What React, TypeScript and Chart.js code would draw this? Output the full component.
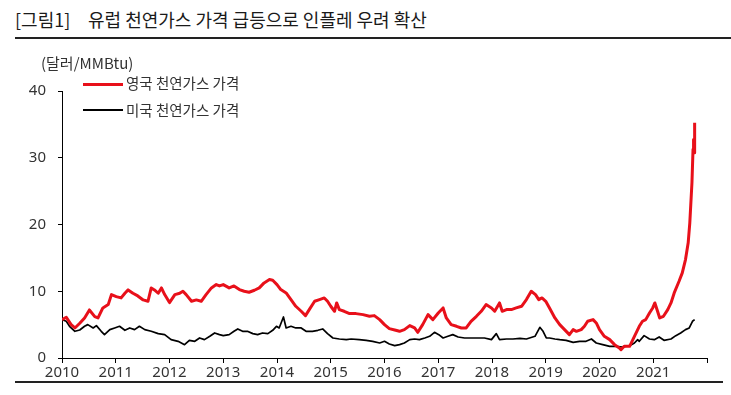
import React, { useEffect, useRef } from 'react';
import { Chart, registerables } from 'chart.js';

Chart.register(...registerables);

const TITLE_TAG = '[그림1]';
const TITLE = '유럽 천연가스 가격 급등으로 인플레 우려 확산';
const UNIT = '(달러/MMBtu)';
const UK_LABEL = '영국 천연가스 가격';
const US_LABEL = '미국 천연가스 가격';

const ukYears = [
  2010.0, 2010.08, 2010.17, 2010.24, 2010.33, 2010.42, 2010.51, 2010.61, 2010.67, 2010.76, 2010.86, 2010.92,
  2011.01, 2011.1, 2011.17, 2011.23, 2011.32, 2011.41, 2011.51, 2011.6, 2011.66, 2011.72, 2011.79, 2011.85, 2011.91,
  2012.0, 2012.1, 2012.19, 2012.25, 2012.31, 2012.41, 2012.5, 2012.59, 2012.68, 2012.78, 2012.87, 2012.93,
  2013.0, 2013.11, 2013.2, 2013.3, 2013.39, 2013.48, 2013.58, 2013.67, 2013.76, 2013.86, 2013.92,
  2014.0, 2014.07, 2014.17, 2014.26, 2014.35, 2014.45, 2014.53, 2014.6, 2014.7, 2014.79, 2014.88, 2014.94,
  2015.0, 2015.07, 2015.11, 2015.16, 2015.25, 2015.35, 2015.47, 2015.6, 2015.72, 2015.81, 2015.91,
  2016.0, 2016.09, 2016.19, 2016.28, 2016.37, 2016.47, 2016.56, 2016.62, 2016.71, 2016.81, 2016.9,
  2017.0, 2017.09, 2017.15, 2017.24, 2017.34, 2017.43, 2017.52, 2017.61, 2017.71, 2017.8, 2017.89, 2017.99,
  2018.05, 2018.14, 2018.19, 2018.27, 2018.36, 2018.45, 2018.55, 2018.64, 2018.73, 2018.81, 2018.87, 2018.93,
  2019.0, 2019.07, 2019.17, 2019.26, 2019.35, 2019.44, 2019.51, 2019.57, 2019.66, 2019.72, 2019.78, 2019.88, 2019.94,
  2020.0, 2020.09, 2020.19, 2020.28, 2020.37, 2020.4, 2020.46, 2020.56, 2020.65, 2020.74, 2020.8, 2020.86, 2020.93, 2020.99,
  2021.03, 2021.08, 2021.12, 2021.19, 2021.27, 2021.33, 2021.39, 2021.48, 2021.54, 2021.6, 2021.65, 2021.68,
  2021.72, 2021.74, 2021.75, 2021.76, 2021.77,
];
const ukPrices = [
  5.75, 6.1, 5.0, 4.5, 5.2, 6.0, 7.2, 6.2, 6.0, 7.5, 8.0, 9.5,
  9.2, 9.0, 9.7, 10.2, 9.7, 9.3, 8.7, 8.5, 10.5, 10.2, 9.7, 10.5, 9.5,
  8.3, 9.5, 9.7, 10.0, 9.5, 8.5, 8.7, 8.5, 9.5, 10.5, 11.0, 10.8,
  11.0, 10.5, 10.8, 10.25, 10.0, 9.85, 10.15, 10.5, 11.25, 11.75, 11.65,
  11.0, 10.25, 9.75, 8.75, 7.75, 7.0, 6.35, 7.25, 8.5, 8.75, 9.0, 8.5,
  7.75, 7.0, 8.25, 7.25, 7.0, 6.65, 6.65, 6.5, 6.25, 6.35, 5.75,
  5.0, 4.4, 4.2, 4.0, 4.25, 4.85, 4.5, 3.85, 5.0, 6.5, 5.75,
  6.75, 7.5, 6.0, 5.0, 4.75, 4.5, 4.5, 5.5, 6.25, 7.0, 8.0, 7.5,
  7.0, 8.25, 7.0, 7.25, 7.25, 7.5, 7.75, 8.75, 10.0, 9.5, 8.75, 9.0,
  8.5, 7.5, 6.0, 5.0, 4.25, 3.5, 4.25, 4.0, 4.25, 4.75, 5.5, 5.75, 5.25,
  4.25, 3.25, 2.75, 2.0, 1.5, 1.25, 1.75, 1.75, 3.25, 4.75, 5.5, 5.75, 6.75, 7.5,
  8.25, 7.0, 6.0, 6.25, 7.25, 8.25, 9.75, 11.5, 12.75, 14.75, 17.25, 20.25,
  26.25, 31.25, 32.75, 30.75, 35.25,
];

const usYears = [
  2010.0, 2010.08, 2010.14, 2010.24, 2010.33, 2010.42, 2010.48, 2010.58, 2010.64, 2010.73, 2010.79, 2010.89, 2010.98,
  2011.07, 2011.17, 2011.26, 2011.35, 2011.44, 2011.54, 2011.66, 2011.79, 2011.91,
  2012.03, 2012.16, 2012.28, 2012.37, 2012.47, 2012.56, 2012.65, 2012.75, 2012.84, 2012.93,
  2013.0, 2013.11, 2013.2, 2013.27, 2013.36, 2013.45, 2013.55, 2013.64, 2013.73, 2013.83, 2013.92, 2013.99,
  2014.04, 2014.12, 2014.17, 2014.26, 2014.35, 2014.45, 2014.54, 2014.66, 2014.76, 2014.85, 2014.94,
  2015.04, 2015.16, 2015.29, 2015.38, 2015.53, 2015.66, 2015.78, 2015.91, 2016.0,
  2016.09, 2016.19, 2016.28, 2016.37, 2016.47, 2016.56, 2016.65, 2016.75, 2016.84, 2016.93,
  2017.01, 2017.09, 2017.18, 2017.27, 2017.37, 2017.49, 2017.61, 2017.74, 2017.86, 2017.99,
  2018.08, 2018.14, 2018.27, 2018.39, 2018.52, 2018.64, 2018.8, 2018.89, 2018.95, 2019.01,
  2019.07, 2019.17, 2019.26, 2019.38, 2019.51, 2019.63, 2019.75, 2019.85, 2019.94,
  2020.06, 2020.19, 2020.31, 2020.43, 2020.56, 2020.65, 2020.71, 2020.74, 2020.83, 2020.93,
  2021.02, 2021.11, 2021.2, 2021.33, 2021.42, 2021.51, 2021.6, 2021.67, 2021.73, 2021.77,
];
const usPrices = [
  5.75, 5.5, 4.75, 4.0, 4.2, 4.75, 5.0, 4.5, 4.85, 4.0, 3.5, 4.25, 4.5,
  4.75, 4.15, 4.5, 4.25, 4.75, 4.25, 4.0, 3.65, 3.5,
  2.75, 2.5, 2.0, 2.65, 2.5, 3.0, 2.75, 3.25, 3.75, 3.5,
  3.35, 3.5, 4.0, 4.35, 4.0, 4.0, 3.65, 3.5, 3.75, 3.65, 4.15, 4.75,
  4.5, 6.15, 4.5, 4.75, 4.5, 4.5, 4.0, 4.0, 4.15, 4.35, 3.65,
  3.0, 2.85, 2.75, 2.85, 2.75, 2.65, 2.5, 2.25, 2.5,
  2.1, 1.85, 2.0, 2.25, 2.75, 2.85, 2.75, 3.0, 3.25, 3.85,
  3.5, 3.0, 3.25, 3.5, 3.15, 3.0, 3.0, 3.0, 3.0, 2.75,
  3.65, 2.75, 2.85, 2.85, 2.95, 2.85, 3.25, 4.6, 4.0, 3.0,
  3.0, 2.85, 2.75, 2.65, 2.35, 2.5, 2.5, 2.85, 2.25,
  2.0, 1.75, 1.75, 1.65, 1.85, 2.25, 2.75, 2.5, 3.35, 2.85,
  2.75, 3.15, 2.65, 2.85, 3.35, 3.75, 4.25, 4.5, 5.5, 5.75,
];

const X_MIN = 2010;
const X_MAX = 2022;
const Y_MIN = 0;
const Y_MAX = 40;
const Y_STEP = 10;

const UK_COLOR = '#e8101a';
const US_COLOR = '#000000';
const FONT = "'Noto Sans', 'Noto Sans CJK KR', sans-serif";
const KFONT = "'Noto Sans CJK KR', 'Noto Sans', sans-serif";

export default function App() {
  const canvasRef = useRef<HTMLCanvasElement | null>(null);

  useEffect(() => {
    const canvas = canvasRef.current;
    if (!canvas) return;
    const chart = new Chart(canvas, {
      type: 'line',
      data: {
        datasets: [
          {
            label: UK_LABEL,
            data: ukYears.map((x, i) => ({ x, y: ukPrices[i] })),
            borderColor: UK_COLOR,
            borderWidth: 3,
            pointRadius: 0,
            tension: 0,
            borderJoinStyle: 'round',
          },
          {
            label: US_LABEL,
            data: usYears.map((x, i) => ({ x, y: usPrices[i] })),
            borderColor: US_COLOR,
            borderWidth: 1.7,
            pointRadius: 0,
            tension: 0,
            borderJoinStyle: 'round',
          },
        ],
      },
      options: {
        animation: false,
        responsive: false,
        maintainAspectRatio: false,
        layout: { padding: { top: 91, right: 24, bottom: 0, left: 0 } },
        plugins: {
          legend: { display: false },
          tooltip: { enabled: false },
        },
        scales: {
          x: {
            type: 'linear',
            min: X_MIN,
            max: X_MAX,
            afterFit: (scale: any) => {
              scale.height = 37;
            },
            ticks: {
              stepSize: 1,
              autoSkip: false,
              maxRotation: 0,
              padding: 1,
              color: '#333',
              font: { family: FONT, size: 15 },
              callback: (v: any) => (Number(v) === X_MAX ? '' : String(v)),
            },
            grid: {
              drawOnChartArea: false,
              drawTicks: true,
              tickLength: 5,
              color: '#000',
            },
            border: { display: true, color: '#000', width: 1 },
          },
          y: {
            type: 'linear',
            min: Y_MIN,
            max: Y_MAX,
            afterFit: (scale: any) => {
              scale.width = 62;
            },
            ticks: {
              stepSize: Y_STEP,
              padding: 12,
              color: '#333',
              font: { family: FONT, size: 15 },
            },
            grid: {
              drawOnChartArea: false,
              drawTicks: true,
              tickLength: 4,
              color: '#000',
            },
            border: { display: true, color: '#000', width: 1 },
          },
        },
      },
    });
    return () => chart.destroy();
  }, []);

  return (
    <div style={{ position: 'fixed', left: 0, top: 0, width: 731, height: 395, background: '#fff', overflow: 'hidden' }}>
      <div style={{ position: 'absolute', left: 15, top: 8, fontFamily: KFONT, fontSize: 18, lineHeight: '22px', color: '#1a1a1a', whiteSpace: 'nowrap' }}>
        {TITLE_TAG}
      </div>
      <div style={{ position: 'absolute', left: 88, top: 8, fontFamily: KFONT, fontSize: 18, lineHeight: '22px', color: '#1a1a1a', whiteSpace: 'nowrap' }}>
        {TITLE}
      </div>
      <div style={{ position: 'absolute', left: 15, top: 37, width: 716, height: 1.5, background: '#222' }} />
      <canvas ref={canvasRef} width={731} height={395} style={{ position: 'absolute', left: 0, top: 0, width: 731, height: 395 }} />
      <div style={{ position: 'absolute', left: 41, top: 54, fontFamily: KFONT, fontSize: 15, lineHeight: '18px', color: '#333', whiteSpace: 'nowrap' }}>
        {UNIT}
      </div>
      <div style={{ position: 'absolute', left: 83, top: 83, width: 40, height: 3, background: UK_COLOR }} />
      <div style={{ position: 'absolute', left: 126, top: 74, fontFamily: KFONT, fontSize: 14.5, lineHeight: '18px', color: '#333', whiteSpace: 'nowrap' }}>
        {UK_LABEL}
      </div>
      <div style={{ position: 'absolute', left: 83, top: 109, width: 40, height: 2, background: US_COLOR }} />
      <div style={{ position: 'absolute', left: 126, top: 101, fontFamily: KFONT, fontSize: 14.5, lineHeight: '18px', color: '#333', whiteSpace: 'nowrap' }}>
        {US_LABEL}
      </div>
      <div style={{ position: 'absolute', left: 15, top: 381, width: 708, height: 1.5, background: '#222' }} />
    </div>
  );
}
